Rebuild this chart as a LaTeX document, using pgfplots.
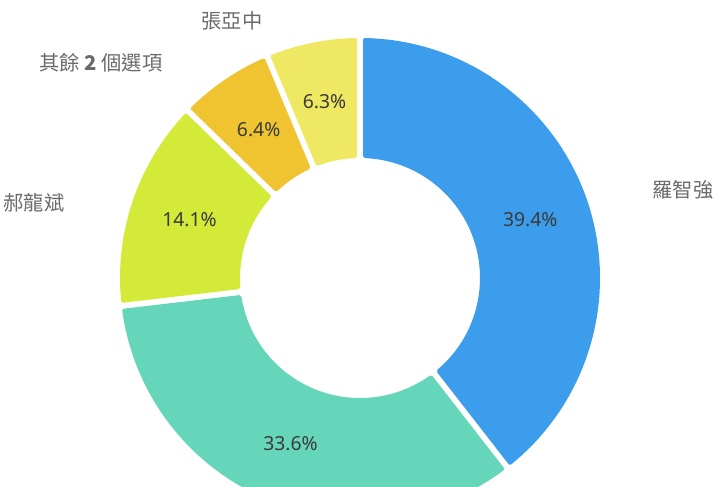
\documentclass[border=0pt]{standalone}
\usepackage{fontspec}
\setmainfont{Noto Sans}
\newfontfamily\cjk{Noto Sans CJK TC}
\usepackage{pgfplots}
\pgfplotsset{compat=1.18}

\definecolor{cBlue}{HTML}{3B9DEB}
\definecolor{cTeal}{HTML}{66D6BB}
\definecolor{cLime}{HTML}{D3EA38}
\definecolor{cOrange}{HTML}{F0C331}
\definecolor{cYellow}{HTML}{EFE862}
\definecolor{pctText}{HTML}{3A3A3A}
\definecolor{lblText}{HTML}{6A6A6A}

\begin{document}
\begin{tikzpicture}
\begin{axis}[
    x=0.75pt, y=0.75pt,
    xmin=0, xmax=717, ymin=0, ymax=486,
    hide axis, clip=true,
]
\pgfplotsextra{
  \begin{scope}[shift={(axis cs:360,208)}]
    \def\curstart{90}
    \pgfmathsetmacro\dout{asin(3.75/178.5)}
    \pgfmathsetmacro\din{asin(3.75/91.5)}
    % value / colour, clockwise from 12 o'clock
    \foreach \v/\c in {39.4/cBlue, 33.6/cTeal, 14.1/cLime, 6.4/cOrange, 6.3/cYellow} {
      \pgfmathsetmacro\e{\curstart - \v*360/99.8}
      \pgfmathsetmacro\aa{\curstart-\dout}
      \pgfmathsetmacro\ab{\e+\dout}
      \pgfmathsetmacro\ba{\e+\din}
      \pgfmathsetmacro\bb{\curstart-\din}
      \filldraw[fill=\c, draw=\c, line width=3pt, line join=round]
        (\aa:178.5pt) arc[start angle=\aa, end angle=\ab, radius=178.5pt]
        -- (\ba:91.5pt) arc[start angle=\ba, end angle=\bb, radius=91.5pt] -- cycle;
      \pgfmathsetmacro\m{(\curstart+\e)/2}
      \node[text=pctText, font=\fontsize{14.5}{17}\selectfont] at (\m:135pt) {\v\%};
      \xdef\curstart{\e}
    }
  \end{scope}
}
\node[text=lblText, font=\cjk\fontsize{15.2}{18}\selectfont] at (axis cs:683,296) {羅智強};
\node[text=lblText, font=\cjk\fontsize{15.2}{18}\selectfont] at (axis cs:34,283) {郝龍斌};
\node[text=lblText, font=\cjk\fontsize{15.2}{18}\selectfont] at (axis cs:101,423) {其餘\ {\bfseries 2}\ 個選項};
\node[text=lblText, font=\cjk\fontsize{15.2}{18}\selectfont] at (axis cs:232,465) {張亞中};
\end{axis}
\pgfresetboundingbox
\path (current axis.south west) rectangle (current axis.north east);
\end{tikzpicture}
\end{document}
